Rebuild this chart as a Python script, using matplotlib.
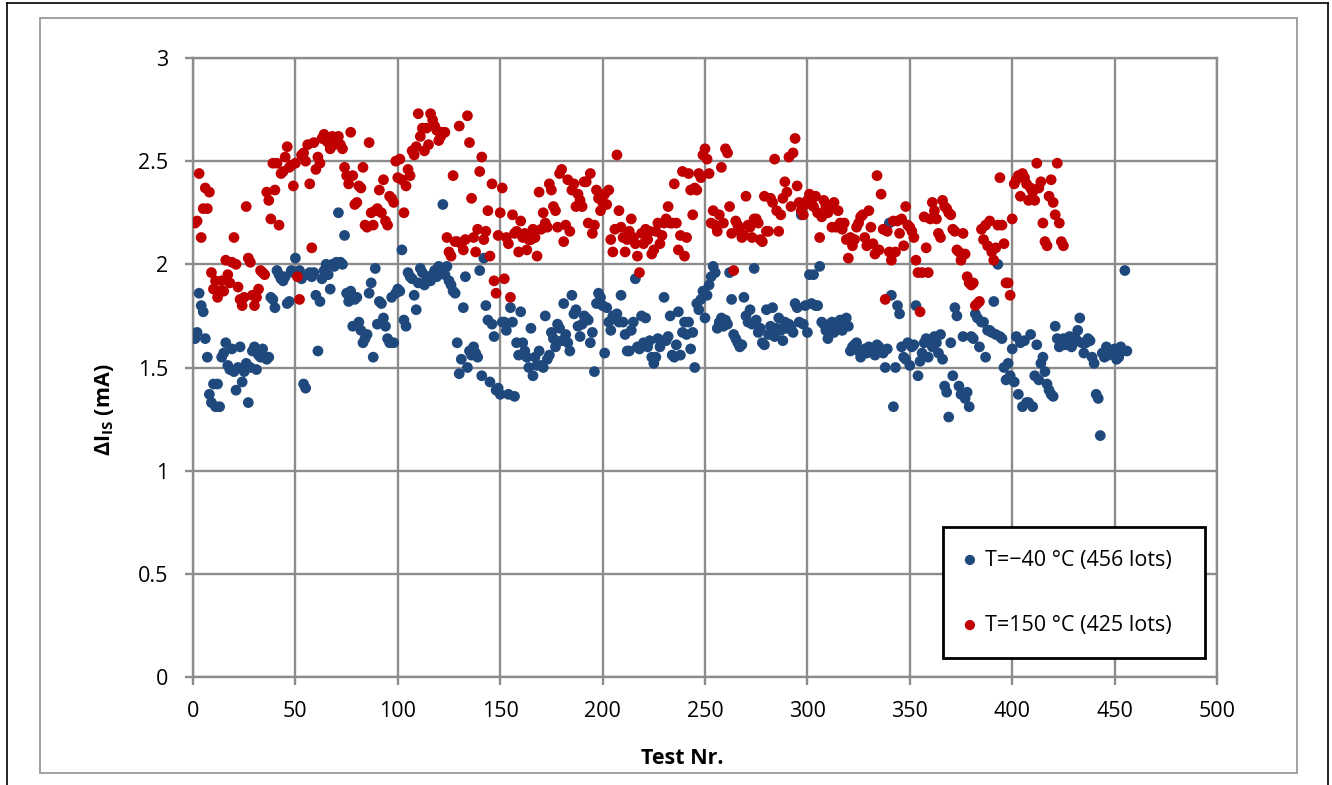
import numpy as np
import matplotlib
matplotlib.use("Agg")
import matplotlib.pyplot as plt
from matplotlib.lines import Line2D
from matplotlib.patches import Rectangle

# ---------------- data ----------------
blue_values = [
    1.64, 1.67, 1.86, 1.80, 1.77, 1.64, 1.55, 1.37, 1.33, 1.42,
    1.31, 1.42, 1.31, 1.55, 1.57, 1.62, 1.51, 1.49, 1.59, 1.48,
    1.39, 1.50, 1.60, 1.43, 1.48, 1.52, 1.33, 1.50, 1.58, 1.60,
    1.49, 1.56, 1.55, 1.59, 1.55, 1.54, 1.55, 1.84, 1.83, 1.79,
    1.97, 1.95, 1.93, 1.92, 1.94, 1.81, 1.82, 1.97, 1.96, 2.03,
    1.95, 1.97, 1.93, 1.42, 1.40, 1.95, 1.96, 1.94, 1.96, 1.85,
    1.58, 1.82, 1.93, 1.97, 2.00, 1.95, 1.88, 2.00, 1.99, 2.01,
    2.25, 2.01, 2.00, 2.14, 1.86, 1.82, 1.87, 1.70, 1.83, 1.84,
    1.72, 1.68, 1.62, 1.64, 1.66, 1.86, 1.91, 1.55, 1.98, 1.71,
    1.82, 1.81, 1.74, 1.70, 1.64, 1.62, 1.84, 1.62, 1.86, 1.88,
    1.87, 2.07, 1.73, 1.70, 1.96, 1.94, 1.93, 1.85, 1.78, 1.91,
    1.98, 1.96, 1.90, 1.94, 1.93, 1.92, 1.95, 1.97, 1.94, 1.99,
    1.98, 2.29, 1.95, 1.99, 1.92, 1.90, 1.87, 1.86, 1.62, 1.47,
    1.54, 1.79, 1.94, 1.50, 1.58, 1.56, 1.60, 1.57, 1.55, 1.97,
    1.46, 2.03, 1.80, 1.73, 1.43, 1.71, 1.65, 1.39, 1.40, 1.37,
    1.72, 1.72, 1.68, 1.37, 1.79, 1.72, 1.36, 1.62, 1.56, 1.77,
    1.62, 1.58, 1.55, 1.50, 1.69, 1.46, 1.55, 1.51, 1.58, 1.51,
    1.50, 1.75, 1.54, 1.56, 1.67, 1.64, 1.60, 1.71, 1.69, 1.63,
    1.81, 1.66, 1.62, 1.58, 1.85, 1.76, 1.78, 1.70, 1.65, 1.71,
    1.75, 1.74, 1.73, 1.62, 1.67, 1.48, 1.81, 1.86, 1.84, 1.80,
    1.57, 1.79, 1.72, 1.68, 1.75, 1.74, 1.76, 1.72, 1.85, 1.72,
    1.66, 1.58, 1.58, 1.68, 1.72, 1.93, 1.60, 1.59, 1.75, 1.62,
    1.74, 1.60, 1.63, 1.55, 1.52, 1.55, 1.64, 1.60, 1.63, 1.84,
    1.63, 1.65, 1.75, 1.56, 1.55, 1.61, 1.77, 1.56, 1.67, 1.72,
    1.66, 1.72, 1.59, 1.67, 1.50, 1.81, 1.78, 1.83, 1.87, 1.74,
    1.85, 1.90, 1.94, 1.99, 1.96, 1.69, 1.72, 1.74, 1.70, 1.73,
    1.71, 1.96, 1.83, 1.66, 1.64, 1.62, 1.60, 1.61, 1.84, 1.75,
    1.72, 1.78, 1.71, 1.98, 1.73, 1.67, 1.69, 1.62, 1.61, 1.78,
    1.66, 1.70, 1.79, 1.65, 1.69, 1.74, 1.68, 1.63, 1.72, 1.69,
    1.71, 1.69, 1.67, 1.81, 1.79, 1.72, 2.24, 1.71, 1.80, 1.67,
    1.95, 1.81, 1.95, 1.80, 1.80, 1.99, 1.72, 1.71, 1.68, 1.64,
    1.71, 1.72, 1.67, 1.71, 1.72, 1.73, 1.68, 1.73, 1.74, 1.70,
    1.58, 1.60, 1.61, 1.62, 1.58, 1.55, 1.58, 1.59, 1.57, 1.60,
    1.59, 1.58, 1.56, 1.61, 1.60, 1.58, 1.57, 1.50, 1.59, 2.20,
    1.85, 1.31, 1.50, 1.80, 1.76, 1.60, 1.55, 1.54, 1.62, 1.51,
    1.60, 1.61, 1.80, 1.46, 1.53, 1.57, 1.62, 1.64, 1.55, 1.63,
    1.60, 1.65, 1.62, 1.57, 1.66, 1.54, 1.41, 1.38, 1.26, 1.62,
    1.46, 1.79, 1.75, 1.41, 1.37, 1.65, 1.35, 1.38, 1.31, 1.65,
    1.64, 1.76, 1.74, 1.60, 1.72, 1.72, 1.55, 1.68, 1.68, 1.67,
    1.82, 1.66, 2.00, 1.65, 1.64, 1.50, 1.44, 1.52, 1.46, 1.59,
    1.43, 1.65, 1.37, 1.62, 1.31, 1.63, 1.33, 1.33, 1.66, 1.31,
    1.46, 1.61, 1.44, 1.52, 1.55, 1.48, 1.42, 1.39, 1.37, 1.36,
    1.70, 1.64, 1.60, 1.62, 1.64, 1.61, 1.63, 1.65, 1.60, 1.62,
    1.64, 1.68, 1.74, 1.62, 1.57, 1.62, 1.64, 1.63, 1.55, 1.52,
    1.37, 1.35, 1.17, 1.57, 1.55, 1.60, 1.56, 1.58, 1.57, 1.59,
    1.54, 1.55, 1.60, 1.58, 1.97, 1.58,
]

red_values = [
    2.20, 2.21, 2.44, 2.13, 2.27, 2.37, 2.27, 2.35, 1.96, 1.88,
    1.92, 1.84, 1.87, 1.92, 1.87, 2.02, 1.95, 1.91, 2.01, 2.13,
    2.00, 1.89, 1.83, 1.80, 1.84, 2.28, 2.03, 2.01, 1.85, 1.80,
    1.84, 1.88, 1.97, 1.96, 1.95, 2.35, 2.31, 2.22, 2.49, 2.36,
    2.49, 2.19, 2.44, 2.45, 2.52, 2.57, 2.47, 2.48, 2.38, 2.49,
    1.94, 1.83, 2.53, 2.54, 2.50, 2.58, 2.39, 2.08, 2.59, 2.46,
    2.52, 2.49, 2.61, 2.63, 2.60, 2.59, 2.56, 2.62, 2.58, 2.60,
    2.62, 2.58, 2.56, 2.47, 2.43, 2.39, 2.64, 2.43, 2.29, 2.30,
    2.38, 2.37, 2.47, 2.19, 2.18, 2.59, 2.25, 2.19, 2.26, 2.27,
    2.36, 2.25, 2.41, 2.21, 2.19, 2.33, 2.32, 2.30, 2.50, 2.42,
    2.51, 2.41, 2.25, 2.38, 2.46, 2.43, 2.55, 2.53, 2.57, 2.73,
    2.62, 2.66, 2.55, 2.66, 2.58, 2.73, 2.70, 2.67, 2.65, 2.60,
    2.62, 2.64, 2.64, 2.13, 2.06, 2.04, 2.43, 2.11, 2.11, 2.67,
    2.10, 2.07, 2.12, 2.72, 2.59, 2.32, 2.13, 2.06, 2.17, 2.45,
    2.52, 2.12, 2.16, 2.26, 2.04, 2.39, 1.92, 1.86, 2.14, 2.25,
    2.37, 1.93, 2.13, 2.10, 1.84, 2.24, 2.15, 2.16, 2.06, 2.21,
    2.13, 2.15, 2.07, 2.12, 2.12, 2.17, 2.13, 2.04, 2.35, 2.17,
    2.25, 2.20, 2.18, 2.39, 2.36, 2.28, 2.26, 2.18, 2.44, 2.46,
    2.11, 2.19, 2.41, 2.16, 2.36, 2.39, 2.28, 2.34, 2.31, 2.28,
    2.40, 2.40, 2.20, 2.44, 2.15, 2.19, 2.36, 2.32, 2.26, 2.30,
    2.34, 2.29, 2.36, 2.12, 2.06, 2.17, 2.53, 2.26, 2.18, 2.13,
    2.06, 2.12, 2.16, 2.22, 2.13, 2.10, 2.04, 1.96, 2.15, 2.10,
    2.17, 2.12, 2.16, 2.05, 2.07, 2.16, 2.20, 2.10, 2.14, 2.20,
    2.22, 2.28, 2.20, 2.20, 2.39, 2.20, 2.07, 2.14, 2.45, 2.04,
    2.13, 2.44, 2.36, 2.24, 2.37, 2.36, 2.44, 2.42, 2.53, 2.56,
    2.51, 2.44, 2.20, 2.26, 2.19, 2.16, 2.24, 2.47, 2.20, 2.56,
    2.54, 2.28, 2.15, 1.97, 2.21, 2.19, 2.16, 2.13, 2.14, 2.33,
    2.19, 2.18, 2.13, 2.22, 2.22, 2.20, 2.12, 2.11, 2.33, 2.16,
    2.16, 2.32, 2.30, 2.51, 2.26, 2.16, 2.24, 2.32, 2.40, 2.35,
    2.52, 2.28, 2.54, 2.61, 2.38, 2.30, 2.26, 2.24, 2.29, 2.31,
    2.34, 2.31, 2.28, 2.33, 2.25, 2.13, 2.23, 2.31, 2.28, 2.25,
    2.27, 2.18, 2.30, 2.18, 2.26, 2.20, 2.17, 2.20, 2.12, 2.03,
    2.13, 2.09, 2.12, 2.18, 2.20, 2.23, 2.24, 2.13, 2.09, 2.26,
    2.18, 2.10, 2.05, 2.43, 2.07, 2.34, 2.17, 1.83, 2.16, 2.06,
    2.02, 2.21, 2.06, 2.21, 2.15, 2.22, 2.09, 2.28, 2.19, 2.18,
    2.16, 2.13, 2.02, 1.96, 1.77, 1.96, 2.23, 2.08, 1.96, 2.22,
    2.30, 2.26, 2.22, 2.15, 2.13, 2.31, 2.28, 2.27, 2.25, 2.24,
    2.17, 2.16, 2.07, 2.06, 2.02, 2.15, 2.05, 1.94, 1.91, 1.90,
    1.91, 1.80, 1.81, 1.82, 2.17, 2.12, 2.19, 2.09, 2.21, 2.06,
    2.02, 2.08, 2.19, 2.42, 2.19, 2.10, 1.91, 1.91, 1.85, 2.22,
    2.39, 2.41, 2.43, 2.33, 2.44, 2.42, 2.39, 2.31, 2.37, 2.35,
    2.31, 2.49, 2.37, 2.40, 2.20, 2.11, 2.09, 2.33, 2.41, 2.30,
    2.24, 2.49, 2.20, 2.11, 2.09,
]

blue_label = "T=\u221240 \u00b0C (456 lots)"
red_label = "T=150 \u00b0C (425 lots)"
x_ticks = [0, 50, 100, 150, 200, 250, 300, 350, 400, 450, 500]
y_ticks = [0, 0.5, 1, 1.5, 2, 2.5, 3]
y_tick_labels = ["0", "0.5", "1", "1.5", "2", "2.5", "3"]

# ---------------- style ----------------
FONT = "Open Sans"
plt.rcParams["font.family"] = [FONT, "DejaVu Sans"]
plt.rcParams["mathtext.fontset"] = "custom"
plt.rcParams["mathtext.rm"] = FONT
plt.rcParams["mathtext.bf"] = FONT + ":bold"

BLUE = "#1F497D"
RED = "#C00000"
GRID = "#8C8C8C"

W, H = 1332, 785
fig = plt.figure(figsize=(W / 100, H / 100), dpi=100)
ax = fig.add_axes([193 / W, 1 - 677 / H, (1217 - 193) / W, (677 - 58) / H])

bx = np.arange(1, len(blue_values) + 1)
rx = np.arange(1, len(red_values) + 1)
ax.scatter(bx, blue_values, s=60, color=BLUE, edgecolors="none", label=blue_label, zorder=3)
ax.scatter(rx, red_values, s=60, color=RED, edgecolors="none", label=red_label, zorder=3)

ax.set_xlim(0, 500)
ax.set_ylim(0, 3)
ax.set_xticks(x_ticks)
ax.set_yticks(y_ticks)
ax.set_yticklabels(y_tick_labels)
ax.grid(True, color=GRID, linewidth=1.7, zorder=0)
ax.set_axisbelow(True)
for sp in ax.spines.values():
    sp.set_color(GRID)
    sp.set_linewidth(1.7)
ax.tick_params(axis="both", direction="out", length=6, width=1.7, color=GRID,
               labelsize=15.5, labelcolor="black")
ax.tick_params(axis="y", pad=12)
ax.tick_params(axis="x", pad=11)

ax.set_xlabel("Test Nr.", fontsize=15.5, fontweight="bold")
ax.xaxis.set_label_coords((682 - 193) / 1024, (677 - 748) / 619)
ax.set_ylabel(r"$\mathbf{\Delta I_{IS}}$ $\mathbf{(mA)}$", fontsize=15.5)
ax.yaxis.set_label_coords((116 - 193) / 1024, (677 - 410) / 619)

leg = ax.legend(loc="upper left",
                bbox_to_anchor=((943 - 193) / 1024, (677 - 527) / 619, (1205 - 943) / 1024, 0.0),
                mode="expand", fontsize=15.5, frameon=True, fancybox=False,
                labelspacing=2.05, borderpad=1.05, handletextpad=0.5,
                handlelength=0.4, markerscale=0.95, borderaxespad=0)
leg.get_frame().set_edgecolor("black")
leg.get_frame().set_linewidth(2.0)
leg.get_frame().set_facecolor("white")
leg.get_frame().set_alpha(1)

# outer chart frame (gray) and page border lines (black)
fig.patches.append(Rectangle((40 / W, 1 - 773 / H), (1297 - 40) / W, (773 - 18) / H,
                             transform=fig.transFigure, fill=False,
                             edgecolor="#9A9A9A", linewidth=1.3))
fig.lines.append(Line2D([7 / W, 7 / W], [0, 1 - 3 / H], transform=fig.transFigure,
                        color="black", linewidth=1.2))
fig.lines.append(Line2D([7 / W, 1328 / W], [1 - 3 / H, 1 - 3 / H], transform=fig.transFigure,
                        color="black", linewidth=1.2))
fig.lines.append(Line2D([1328 / W, 1328 / W], [0, 1 - 3 / H], transform=fig.transFigure,
                        color="black", linewidth=1.2))

fig.savefig("out.png", dpi=100)
